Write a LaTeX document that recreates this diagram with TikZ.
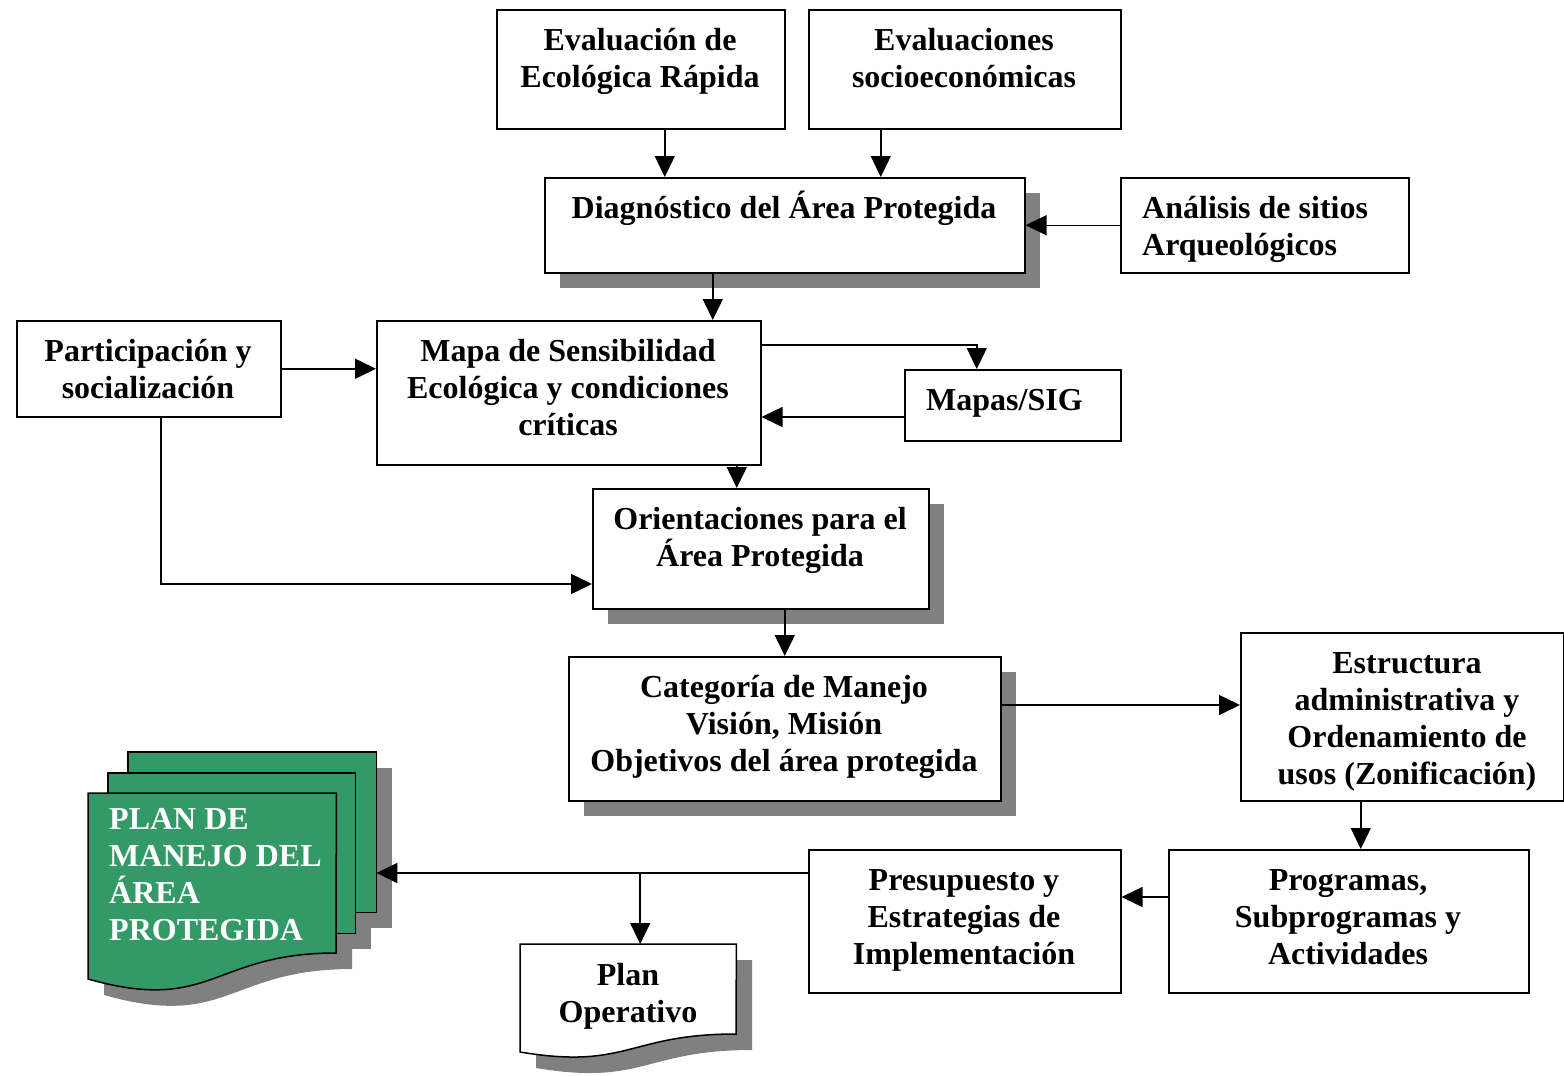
\documentclass[tikz,border=0pt]{standalone}
\usepackage{fontspec}
\setmainfont{Liberation Serif}
\usetikzlibrary{arrows.meta,calc}
\definecolor{shgray}{RGB}{128,128,128}
\definecolor{seagreen}{RGB}{51,153,102}
\newcommand{\fstrut}{\rule{0pt}{33.5pt}}
\tikzset{
  boxnode/.style={draw, line width=1.5pt, fill=white, rectangle, inner sep=0pt, anchor=north west},
  txt/.style={inner sep=0pt, anchor=north, align=center, font=\fontsize{32}{37}\selectfont\bfseries},
  shadowfill/.style={fill=shgray},
  arr/.style={line width=1.5pt, -{Triangle[length=21pt,width=20pt]}},
  ln/.style={line width=1.5pt},
}
\begin{document}
\begin{tikzpicture}[x=1pt,y=-1pt]
\useasboundingbox (0,0) rectangle (1564,1076);

% shadows
\fill[shadowfill] (560,193) rectangle (1040,288);
\fill[shadowfill] (608,504) rectangle (944,624);
\fill[shadowfill] (584,672) rectangle (1016,816);

% boxes
\node[boxnode, minimum width=288pt, minimum height=119pt] (A) at (496,9) {};
\node[boxnode, minimum width=312pt, minimum height=119pt] (B) at (808,9) {};
\node[boxnode, minimum width=480pt, minimum height=95pt] (C) at (544,177) {};
\node[boxnode, minimum width=288pt, minimum height=95pt] (D) at (1120,177) {};
\node[boxnode, minimum width=384pt, minimum height=144pt] (E) at (376,320) {};
\node[boxnode, minimum width=264pt, minimum height=96pt] (F) at (16,320) {};
\node[boxnode, minimum width=216pt, minimum height=71pt] (G) at (904,369) {};
\node[boxnode, minimum width=336pt, minimum height=120pt] (H) at (592,488) {};
\node[boxnode, minimum width=432pt, minimum height=144pt] (I) at (568,656) {};
\node[boxnode, minimum width=323pt, minimum height=168pt] (J) at (1240,632) {};
\node[boxnode, minimum width=360pt, minimum height=143pt] (K) at (1168,849) {};
\node[boxnode, minimum width=312pt, minimum height=143pt] (L) at (808,849) {};

% texts
\node[txt] (tA) at (640,17) {\fstrut Evaluación de\\Ecológica Rápida};
\node[txt] (tB) at (964,17) {\fstrut Evaluaciones\\socioeconómicas};
\node[txt] (tC) at (784,185) {\fstrut Diagnóstico del Área Protegida};
\node[txt, anchor=north west, align=left] (tD) at (1142,185) {\fstrut Análisis de sitios\\Arqueológicos};
\node[txt] (tE) at (568,328) {\fstrut Mapa de Sensibilidad\\Ecológica y condiciones\\críticas};
\node[txt] (tF) at (148,328) {\fstrut Participación y\\socialización};
\node[txt, anchor=north west, align=left] (tG) at (926,377) {\fstrut Mapas/SIG};
\node[txt] (tH) at (760,496) {\fstrut Orientaciones para el\\Área Protegida};
\node[txt] (tI) at (784,664) {\fstrut Categoría de Manejo\\Visión, Misión\\Objetivos del área protegida};
\node[txt] (tJ) at (1407,640) {\fstrut Estructura\\administrativa y\\Ordenamiento de\\usos (Zonificación)};
\node[txt] (tK) at (1348,857) {\fstrut Programas,\\Subprogramas y\\Actividades};
\node[txt] (tL) at (964,857) {\fstrut Presupuesto y\\Estrategias de\\Implementación};

% Plan Operativo document
\node[inner sep=0pt, minimum width=216pt, minimum height=112pt, anchor=north west] (PO) at (520,944) {};
\fill[shadowfill] (536,960) -- (752,960) -- (752,1050) .. controls (644,1050) and (644,1086) .. (536,1068) -- cycle;
\draw[ln, fill=white] (PO.north west) -- (PO.north east) -- (736,1034) .. controls (628,1034) and (628,1070) .. (520,1052) -- cycle;
\node[txt] (tPO) at (628,952) {\fstrut Plan\\Operativo};

% Plan de manejo multidocument
\node[inner sep=0pt, minimum width=248pt, minimum height=160pt, anchor=north west] (PMback) at (128,752) {};
\node[inner sep=0pt, minimum width=247pt, minimum height=160pt, anchor=north west] (PMmid) at (108,773) {};
\node[inner sep=0pt, minimum width=248pt, minimum height=200pt, anchor=north west] (PMfront) at (88,793) {};
\fill[shadowfill] (144,768) rectangle (392,928);
\fill[shadowfill] (124,789) rectangle (371,949);
\fill[shadowfill] (104,809) -- (352,809) -- (352,969) .. controls (228,969) and (228,1030) .. (104,995) -- cycle;
\draw[ln, fill=seagreen] (PMback.north west) rectangle (PMback.south east);
\draw[ln, fill=seagreen] (PMmid.north west) rectangle (PMmid.south east);
\draw[ln, fill=seagreen] (PMfront.north west) -- (PMfront.north east) -- (336,953) .. controls (212,953) and (212,1014) .. (88,979) -- cycle;
\node[txt, anchor=north west, align=left, text=white] (tPM) at (109,796) {\fstrut PLAN DE\\MANEJO DEL\\ÁREA\\PROTEGIDA};

% connectors
\draw[arr] ([xshift=24pt]A.south) -- ([xshift=24pt]A.south |- C.north);
\draw[arr] ([xshift=-84pt]B.south) -- ([xshift=-84pt]B.south |- C.north);
\draw[arr] (D.west) -- (D.west -| C.east);
\draw[arr] ([xshift=-72pt]C.south) -- ([xshift=-72pt]C.south |- E.north);
\draw[arr] (F.east) -- (F.east -| E.west);
\draw[arr] ([yshift=-25pt]E.north east) -| ([xshift=-36pt]G.north);
\draw[arr] ([yshift=-48pt]G.north west) -- ([yshift=-48pt]G.north west -| E.east);
\draw[arr] ([xshift=168pt]E.south) -- ([xshift=168pt]E.south |- H.north);
\draw[arr] ([xshift=12pt]F.south) |- ([yshift=-96pt]H.north west);
\draw[arr] ([xshift=24pt]H.south) -- ([xshift=24pt]H.south |- I.north);
\draw[arr] ([yshift=-49pt]I.north east) -- ([yshift=-49pt]I.north east -| J.west);
\draw[arr] ([xshift=12pt]K.north |- J.south) -- ([xshift=12pt]K.north);
\draw[arr] ([yshift=-48pt]K.north west) -- ([yshift=-48pt]K.north west -| L.east);
\coordinate (j1) at ([yshift=-24pt]L.north west);
\coordinate (potop) at ([xshift=12pt]PO.north);
\draw[arr] (j1) -- (j1 -| PMback.east);
\draw[arr] (j1 -| potop) -- (potop);
\end{tikzpicture}
\end{document}
